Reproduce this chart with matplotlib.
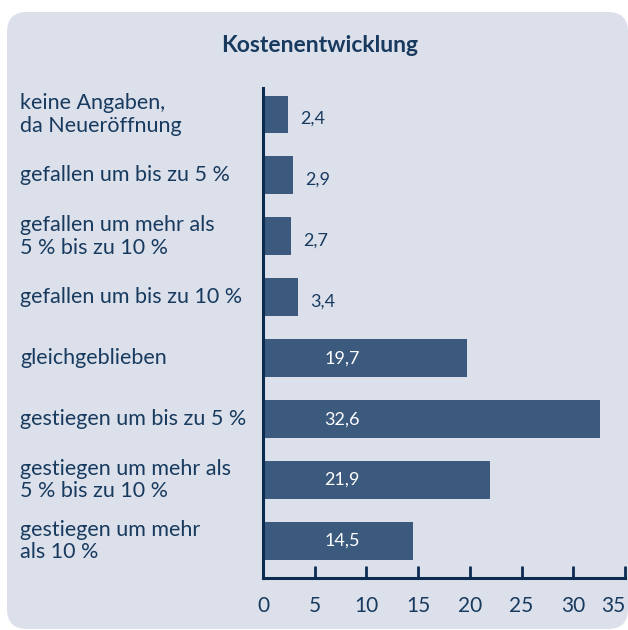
import matplotlib
matplotlib.use("Agg")
import matplotlib.pyplot as plt
from matplotlib.patches import FancyBboxPatch

# Daten
kategorien = [
    "keine Angaben,\nda Neueröffnung",
    "gefallen um bis zu 5 %",
    "gefallen um mehr als\n5 % bis zu 10 %",
    "gefallen um bis zu 10 %",
    "gleichgeblieben",
    "gestiegen um bis zu 5 %",
    "gestiegen um mehr als\n5 % bis zu 10 %",
    "gestiegen um mehr\nals 10 %",
]
werte = [2.4, 2.9, 2.7, 3.4, 19.7, 32.6, 21.9, 14.5]
x_ticks = [0, 5, 10, 15, 20, 25, 30, 35]

# Farben
hintergrund = "#dce0eb"
balken_farbe = "#3b5a7e"
text_farbe = "#173a5e"
achsen_farbe = "#0c2b50"

plt.rcParams["font.family"] = ["Lato", "DejaVu Sans"]

W, H = 628, 630
fig = plt.figure(figsize=(W / 100, H / 100), dpi=100)
fig.patch.set_facecolor("white")

# Hintergrund-Panel (abgerundet) in Pixelkoordinaten
bg = fig.add_axes([0, 0, 1, 1])
bg.set_xlim(0, W)
bg.set_ylim(H, 0)
bg.axis("off")
bg.add_patch(FancyBboxPatch((7 + 20, 12 + 20), 621 - 40, 617 - 40, boxstyle="round,pad=20",
                            facecolor=hintergrund, edgecolor="none"))
bg.text(320, 46, "Kostenentwicklung", ha="center", va="center",
        fontsize=16.5, fontweight="bold", color=text_farbe)

# Balkendiagramm
ax = fig.add_axes([263 / W, 52 / H, 362 / W, 490 / H])
ax.patch.set_alpha(0)
pos = list(range(len(werte)))
ax.barh(pos, werte, height=0.62, color=balken_farbe)
ax.set_xlim(0, 35)
ax.set_ylim(7.607, -0.434)

for i, (p, w) in enumerate(zip(pos, werte)):
    txt = str(w).replace(".", ",")
    if w < 10:
        ax.annotate(txt, (w, p), xytext=(9, -3), textcoords="offset points",
                    ha="left", va="center", fontsize=13, color=text_farbe)
    else:
        ax.text(5.9, p, txt, ha="left", va="center", fontsize=13, color="white")

# Beschriftungen der Kategorien
for p, k in zip(pos, kategorien):
    ax.text(-243 / 362 * 35, p, k, ha="left", va="center", fontsize=15.5,
            color=text_farbe, linespacing=1.15)

ax.set_yticks([])
ax.set_xticks(x_ticks)
ax.tick_params(axis="x", direction="in", length=9, width=2, colors=achsen_farbe,
               labelcolor=text_farbe, labelsize=15, pad=13)
ax.get_xticklabels()[-1].set_horizontalalignment("right")
for s in ["top", "right"]:
    ax.spines[s].set_visible(False)
for s in ["left", "bottom"]:
    ax.spines[s].set_color(achsen_farbe)
    ax.spines[s].set_linewidth(2.2)

fig.savefig("out.png", dpi=100, facecolor="white")
